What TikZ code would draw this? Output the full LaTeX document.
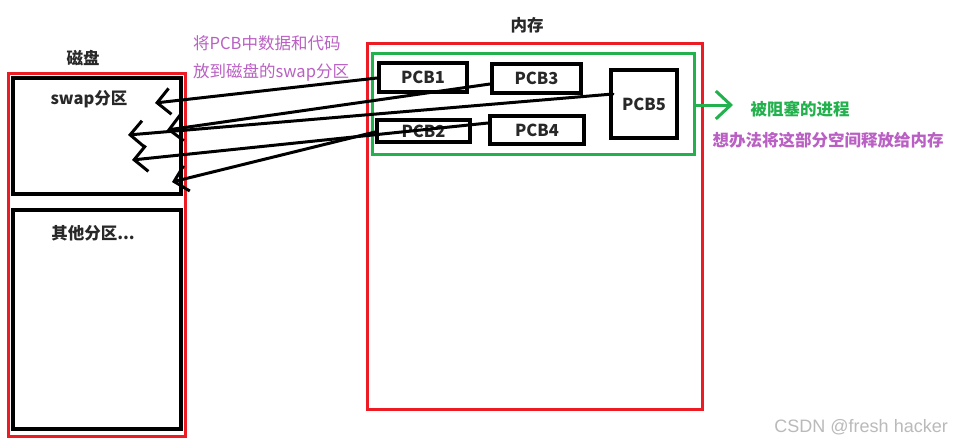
\documentclass[tikz,border=0pt]{standalone}
\usepackage{fontspec}
\setmainfont{Noto Sans CJK SC}
\newfontfamily\wmfont{Liberation Sans}
\usetikzlibrary{arrows.meta}
\definecolor{myred}{RGB}{237,28,36}
\definecolor{mygreen}{RGB}{34,177,76}
\definecolor{mypurple}{RGB}{186,96,196}
\definecolor{mytext}{RGB}{40,40,40}
\tikzset{
  blackbox/.style={draw=black, line width=4pt},
  pcb/.style={draw=black, line width=4pt, font=\fontsize{16.5}{19}\selectfont\bfseries, text=mytext, inner sep=0pt},
  title/.style={font=\fontsize{16.5}{19}\selectfont\bfseries, text=mytext, inner sep=0pt},
  note/.style={font=\fontsize{16.5}{19}\selectfont, text=mypurple, inner sep=0pt, anchor=west},
  swaparrow/.style={draw=black, line width=3pt, line cap=round, -{Straight Barb[length=13pt,width=26pt,line width=3pt]}},
}
\begin{document}
\begin{tikzpicture}[x=1pt,y=-1pt]
\useasboundingbox[fill=white] (0,0) rectangle (953,445);
% disk
\node[draw=myred, line width=3pt, minimum width=177pt, minimum height=363pt] (disk) at (96.5,254.5) {};
\node[blackbox, minimum width=168pt, minimum height=116pt] (swap) at (97,136) {};
\node[blackbox, minimum width=168pt, minimum height=219pt] (other) at (97,319.5) {};
\node[title] (disklbl) at (83,58) {磁盘};
\node[title] (swaplbl) at (89,99) {swap分区};
\node[title] (otherlbl) at (93,233) {其他分区...};
% memory
\node[draw=myred, line width=3pt, minimum width=335pt, minimum height=366pt] (mem) at (534.5,226) {};
\node[title] (memlbl) at (527,25) {内存};
\node[draw=mygreen, line width=3pt, minimum width=322pt, minimum height=101pt] (gr) at (533,103.5) {};
\node[pcb, minimum width=88pt, minimum height=29pt] (p1) at (423,77.5) {PCB1};
\node[pcb, minimum width=89pt, minimum height=29pt] (p3) at (536.5,78.5) {PCB3};
\node[pcb, minimum width=66pt, minimum height=68pt] (p5) at (644,104) {PCB5};
\node[pcb, minimum width=93pt, minimum height=22pt] (p2) at (423.5,131) {PCB2};
\node[pcb, minimum width=94pt, minimum height=28pt] (p4) at (537,130) {PCB4};
% arrow targets
\coordinate (t1) at (155,103);
\coordinate (t3) at (167,130);
\coordinate (t5) at (128,135);
\coordinate (t4) at (132,160);
\coordinate (t2) at (172,182);
\draw[swaparrow] ([yshift=-0.5pt]p1.west) -- (t1);
\draw[swaparrow] ([yshift=-5.5pt]p3.west) -- (t3);
\draw[swaparrow] ([xshift=4pt,yshift=10pt]p5.west) -- (t5);
\draw[swaparrow] ([yshift=7pt]p4.west) -- (t4);
\draw[swaparrow] ([yshift=-1pt]p2.west) -- (t2);
% green arrow
\coordinate (ga) at (733,105);
\draw[draw=mygreen, line width=3pt, -{Straight Barb[length=15pt,width=28pt,line width=3pt]}] (gr.east |- ga) -- (ga);
\node[font=\fontsize{16.5}{19}\selectfont\bfseries, text=mygreen, inner sep=0pt] (blk) at (800,109) {被阻塞的进程};
\node[font=\fontsize{16.5}{19}\selectfont\bfseries, text=mypurple, inner sep=0pt] (free) at (828,140) {想办法将这部分空间释放给内存};
% purple notes
\node[note] (n1) at (193,43) {将PCB中数据和代码};
\node[note] (n2) at (193,72) {放到磁盘的swap分区};
% watermark
\node[font=\wmfont\fontsize{18}{20}\selectfont, text=black!27, anchor=east, inner sep=0pt] (wm) at (948,427) {CSDN @fresh hacker};
\end{tikzpicture}
\end{document}
